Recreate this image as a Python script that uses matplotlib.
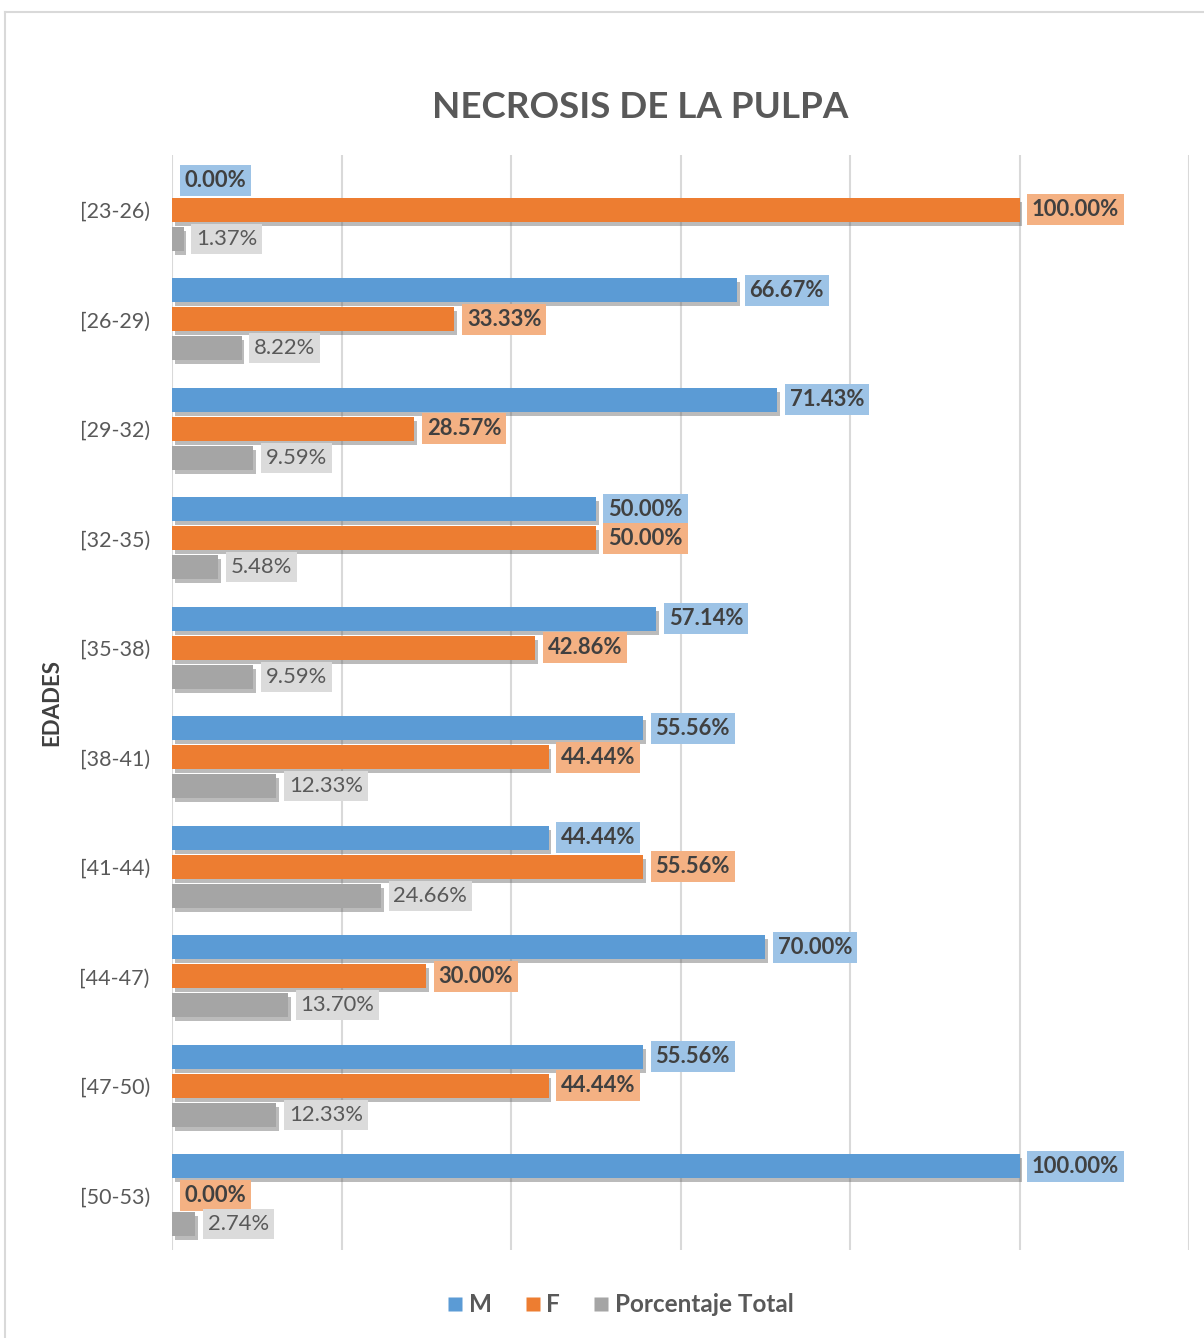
import matplotlib
matplotlib.use("Agg")
import matplotlib.pyplot as plt
import matplotlib.patheffects as pe
from matplotlib.lines import Line2D
import numpy as np

categories = ["[23-26)", "[26-29)", "[29-32)", "[32-35)", "[35-38)",
              "[38-41)", "[41-44)", "[44-47)", "[47-50)", "[50-53)"]
m_vals = [0.00, 66.67, 71.43, 50.00, 57.14, 55.56, 44.44, 70.00, 55.56, 100.00]
f_vals = [100.00, 33.33, 28.57, 50.00, 42.86, 44.44, 55.56, 30.00, 44.44, 0.00]
total_vals = [1.37, 8.22, 9.59, 5.48, 9.59, 12.33, 24.66, 13.70, 12.33, 2.74]
series_names = ["M", "F", "Porcentaje Total"]

plt.rcParams['font.family'] = ['Lato', 'DejaVu Sans']

fig = plt.figure(figsize=(12.04, 13.38), dpi=100)
ax = fig.add_axes([172/1204, 1-1250/1338, (1189-172)/1204, (1250-155)/1338])

colors = ["#5B9BD5", "#ED7D31", "#A5A5A5"]
label_bg = ["#9DC3E6", "#F4B183", "#DBDBDB"]
label_fc = ["#404040", "#404040", "#595959"]
label_fw = ["bold", "bold", "normal"]

y = np.arange(len(categories))
h = 0.22
off = 0.265
shadow = [pe.SimplePatchShadow(offset=(2, -3), shadow_rgbFace='#555555', alpha=0.4), pe.Normal()]

for k, vals in enumerate([m_vals, f_vals, total_vals]):
    ypos = y + (k - 1) * off
    bars = ax.barh(ypos, vals, height=h, color=colors[k], label=series_names[k], zorder=3)
    for b in bars:
        b.set_path_effects(shadow)
    for v, yy in zip(vals, ypos):
        ax.annotate(f"{v:.2f}%", xy=(v, yy), xytext=(9, 0), textcoords='offset points',
                    ha='left', va='center', fontsize=15.8, color=label_fc[k],
                    fontweight=label_fw[k], zorder=5,
                    bbox=dict(boxstyle='square,pad=0.22', fc=label_bg[k], ec='none'))

ax.set_xlim(0, 120)
ax.set_ylim(9.5, -0.5)
ax.set_xticks(np.arange(0, 121, 20))
ax.set_xticklabels([])
ax.tick_params(axis='x', length=0)
ax.grid(axis='x', color='#D9D9D9', linewidth=1.5, zorder=0)
ax.set_yticks(y)
ax.set_yticklabels(categories, fontsize=15.5, color='#595959')
ax.tick_params(axis='y', length=0, pad=16)
for s in ax.spines.values():
    s.set_visible(False)

ax.set_ylabel("EDADES", fontsize=16, fontweight='bold', color='#404040', labelpad=12)

fig.text(640/1204, 1-107/1338, "NECROSIS DE LA PULPA", ha='center', va='center',
         fontsize=26.5, fontweight='bold', color='#595959')

handles = [Line2D([0], [0], marker='s', linestyle='none', markersize=10,
                  markerfacecolor=c, markeredgecolor='none') for c in colors]
fig.legend(handles, series_names, loc='center', bbox_to_anchor=(617/1204, 1-1305/1338),
           ncol=3, frameon=False, handletextpad=-0.05, columnspacing=1.1, handlelength=1.2,
           labelcolor='#595959', prop={'weight': 'bold', 'size': 17.5})

# chart border
fig.add_artist(Line2D([5/1204, 5/1204], [0, 1-12/1338], color='#D9D9D9', lw=1.5))
fig.add_artist(Line2D([5/1204, 1], [1-12/1338, 1-12/1338], color='#D9D9D9', lw=1.5))

fig.savefig("out.png", dpi=100)
